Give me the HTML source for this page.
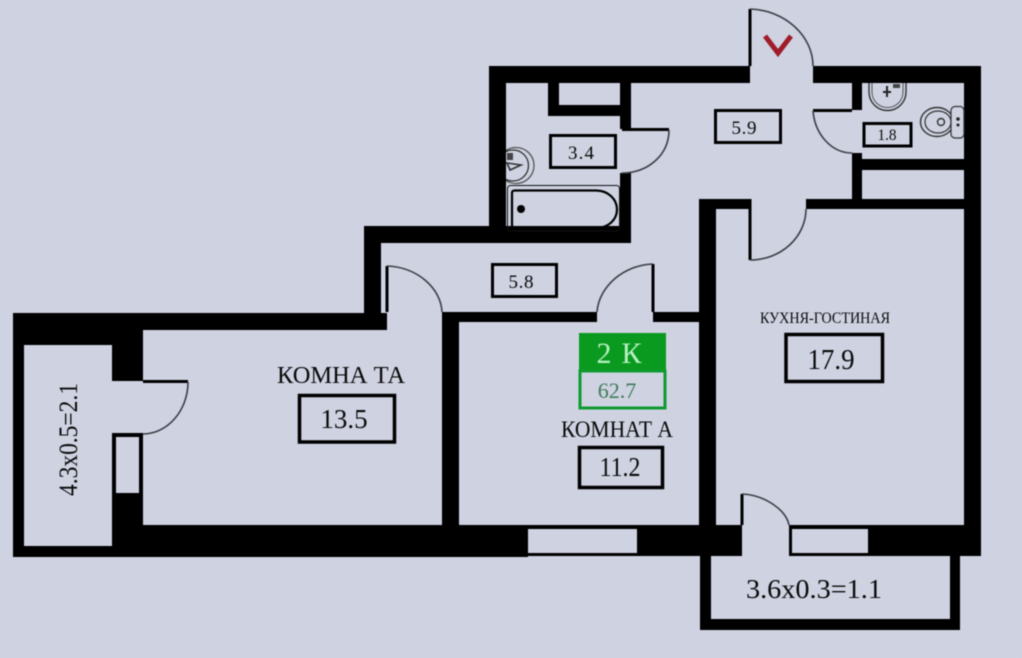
<!DOCTYPE html>
<html>
<head>
<meta charset="utf-8">
<style>
html, body { margin: 0; padding: 0; background: #ced2e1; width: 1022px; height: 658px; overflow: hidden; }
svg { display: block; filter: blur(.55px); }
text { font-family: "Liberation Serif", "Noto Serif CJK SC", serif; fill: #0a0a0a; }
</style>
</head>
<body>
<svg width="1022" height="658" viewBox="0 0 1022 658" xmlns="http://www.w3.org/2000/svg">
<rect width="1022" height="658" fill="#ced2e1"/>

<!-- bathroom sink -->
<circle cx="516" cy="165.5" r="18" fill="none" stroke="#555" stroke-width="1.3"/>
<circle cx="513" cy="165.5" r="15.5" fill="none" stroke="#333" stroke-width="1.3"/>
<rect x="507" y="153" width="6" height="7" fill="#444"/>
<path d="M507 163L521 165L510 170Z" fill="none" stroke="#333" stroke-width="1.6"/>

<!-- all walls as one compound path -->
<path fill="#000" d="
M13 313H143V345H24V546H143V557H13Z
M112 344H143V381H112Z
M112 433H143V493H139V437H116V493H112Z
M112 493H143V557H112Z
M143 313H387V330H143Z
M364 226H631V243H381V330H364Z
M489 66H750V83H506V243H489Z
M620 83H631V129H620Z
M620 173H631V243H620Z
M548 83H559V105H631V116H548Z
M813 66H981V556H964V83H813Z
M852 83H862V110H852Z
M852 153H862V159H964V170H862V199H964V209H806V199H852Z
M699 199H750V209H716V556H699Z
M442 312H597V322H459V526H442Z
M653 312H699V322H653Z
M143 525H528V557H143Z
M528 525H637V529H528Z
M528 553H637V556H528Z
M637 525H742V556H637Z
M789 525H981V556H868V529H792V553H868V556H789Z
M700 556H711V619H950V556H960V630H700Z
"/>

<!-- door leaves -->
<path fill="none" stroke="#000" stroke-width="3" d="M750 66V9 M750 199V260 M622 129.5H669 M143 381.5H188 M813 110.5H852 M387 312V266 M653 312V264 M742 525V494"/>

<!-- door swings -->
<path fill="none" stroke="#3c3f45" stroke-width="1.6" d="M750 9C785 10 813 36 813 66 M750 260C782 260 806 236 806 209 M669 130C669 155 648 173 622 173 M188 382C188 411 167 434 143 434 M813 111C815 135 832 153 852 153 M387 266C417 267 441 288 442 312 M653 264C624 265 599 286 597 312 M742 494C765 495 786 510 789 525"/>

<!-- bathtub -->
<rect x="507.5" y="185.5" width="112" height="45.5" rx="3" fill="none" stroke="#111" stroke-width="1"/>
<path d="M515 190.5H596C608 190.5 617 199 617 209.5C617 220 608 228 596 228H515C513 228 512 227 512 225V193C512 191 513 190.5 515 190.5Z" fill="none" stroke="#000" stroke-width="2.2"/>
<circle cx="521" cy="209" r="4" fill="#000"/>

<!-- WC sink -->
<path d="M869 83V92A18 18 0 0 0 906 92V83" fill="none" stroke="#333" stroke-width="1.4"/>
<path d="M872 83V92A15.5 15.5 0 0 0 903 92V83" fill="none" stroke="#555" stroke-width="1"/>
<rect x="893" y="84" width="7" height="4" fill="#444"/>
<path d="M887 86V97M883 92H891" stroke="#222" stroke-width="2"/>

<!-- toilet -->
<ellipse cx="937" cy="122" rx="16.5" ry="14.5" fill="none" stroke="#333" stroke-width="1.4"/>
<ellipse cx="938" cy="122" rx="13" ry="11" fill="none" stroke="#333" stroke-width="1.2"/>
<circle cx="941" cy="122" r="3.5" fill="none" stroke="#333" stroke-width="1.4"/>
<rect x="951" y="106.5" width="13" height="31.5" rx="4" fill="#ced2e1" stroke="#333" stroke-width="1.2"/>
<circle cx="958" cy="119" r="1.8" fill="#222"/>
<circle cx="958" cy="125" r="1.5" fill="#222"/>

<!-- entrance mark -->
<path d="M765 36L778 53L791 36" fill="none" stroke="#a01c28" stroke-width="5"/>

<!-- label boxes -->
<path fill="none" stroke="#000" stroke-width="3" d="M550.5 135.5h65v32h-65Z M715.5 110.5h65v32h-65Z M864 123.5h47v22.5h-47Z M492.5 264.5h64v32h-64Z"/>
<path fill="none" stroke="#000" stroke-width="3.5" d="M299.5 395.5h95v46.5h-95Z M786 334.5h96.5v47h-96.5Z M579.5 447.5h83v40h-83Z"/>

<!-- badge -->
<rect x="579" y="333" width="87" height="39" fill="#0a9a1f"/>
<rect x="580" y="371" width="85" height="37" fill="none" stroke="#0f9a30" stroke-width="3"/>
<text x="619" y="363" font-size="30" text-anchor="middle" style="fill:#b6f0c0" textLength="45" lengthAdjust="spacing">2 К</text>
<text x="617" y="398" font-size="22" text-anchor="middle" style="fill:#3f7c58">62.7</text>

<!-- labels -->
<text x="581" y="159" font-size="19" text-anchor="middle" textLength="26">3.4</text>
<text x="744" y="134" font-size="19" text-anchor="middle" textLength="25">5.9</text>
<text x="887" y="140" font-size="16" text-anchor="middle" textLength="19" lengthAdjust="spacingAndGlyphs">1.8</text>
<text x="521" y="288" font-size="19" text-anchor="middle" textLength="25">5.8</text>
<text x="277" y="383" font-size="24" textLength="128" lengthAdjust="spacingAndGlyphs">КОМНА ТА</text>
<text x="344" y="428" font-size="27" text-anchor="middle">13.5</text>
<text x="561" y="437" font-size="23" textLength="112" lengthAdjust="spacingAndGlyphs">КОМНАТ А</text>
<text x="620" y="476" font-size="27" text-anchor="middle" textLength="41" lengthAdjust="spacingAndGlyphs">11.2</text>
<text x="760" y="323" font-size="16" textLength="130" lengthAdjust="spacingAndGlyphs">КУХНЯ-ГОСТИНАЯ</text>
<text x="831" y="369" font-size="28" text-anchor="middle" textLength="47" lengthAdjust="spacingAndGlyphs">17.9</text>
<text x="746" y="598" font-size="27" textLength="136" lengthAdjust="spacingAndGlyphs">3.6x0.3=1.1</text>
<text transform="translate(77,496) rotate(-90)" font-size="26" textLength="113" lengthAdjust="spacingAndGlyphs">4.3x0.5=2.1</text>
</svg>
</body>
</html>
